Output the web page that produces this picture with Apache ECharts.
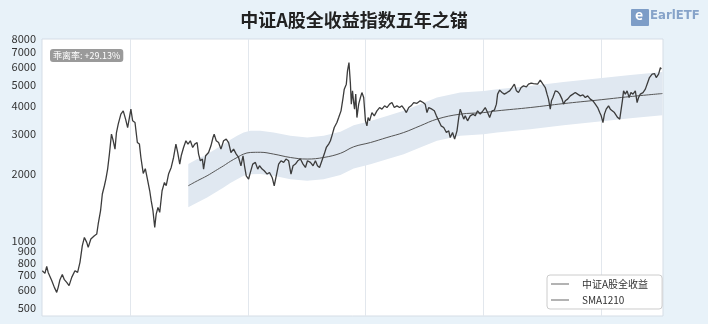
<!DOCTYPE html>
<html>
<head>
<meta charset="utf-8">
<script src="https://cdn.jsdelivr.net/npm/echarts@6/dist/echarts.min.js"></script>
<style>
html,body{margin:0;padding:0;background:#e8f2f9;}
#c{width:708px;height:324px;}
</style>
</head>
<body>
<div id="c"></div>
<script>
// ---- data ----
const titleText = '中证A股全收益指数五年之锚';
const biasText = '乖离率: +29.13%';
const seriesNames = ['中证A股全收益', 'SMA1210'];
const yTickLabels = [500, 600, 700, 800, 900, 1000, 2000, 3000, 4000, 5000, 6000, 7000, 8000];
const gridYears = [2008, 2012, 2016, 2020, 2024];

// dates as decimal years
const dates = [
2005.01,2005.10,2005.16,2005.21,2005.33,2005.42,2005.50,2005.55,2005.61,2005.69,2005.76,2005.84,2005.92,
2006.01,2006.12,2006.21,2006.29,2006.37,2006.44,2006.52,2006.57,2006.66,2006.78,2006.86,2006.91,2006.99,
2007.05,2007.12,2007.17,2007.23,2007.29,2007.36,2007.42,2007.48,2007.53,2007.59,2007.68,2007.76,2007.84,2007.91,2007.97,
2008.02,2008.08,2008.16,2008.24,2008.31,2008.36,2008.44,2008.51,2008.57,2008.66,2008.71,2008.77,2008.83,2008.88,2008.94,
2009.00,2009.08,2009.16,2009.22,2009.30,2009.39,2009.47,2009.55,2009.61,2009.68,2009.73,2009.81,2009.89,2009.96,
2010.04,2010.12,2010.19,2010.27,2010.32,2010.38,2010.45,2010.49,2010.56,2010.66,2010.74,2010.81,2010.85,2010.92,
2011.00,2011.08,2011.17,2011.26,2011.34,2011.42,2011.51,2011.60,2011.68,2011.76,2011.83,2011.88,2011.94,
2012.02,2012.08,2012.16,2012.25,2012.33,2012.39,2012.48,2012.55,2012.65,2012.73,2012.82,2012.89,2012.96,
2013.04,2013.12,2013.21,2013.29,2013.38,2013.46,2013.53,2013.61,2013.69,2013.78,2013.87,2013.95,
2014.02,2014.12,2014.21,2014.29,2014.36,2014.43,2014.51,2014.59,2014.66,2014.74,2014.80,2014.85,2014.93,
2015.02,2015.08,2015.16,2015.23,2015.27,2015.34,2015.38,2015.43,2015.48,2015.51,2015.55,2015.59,2015.62,2015.66,2015.70,2015.76,2015.82,2015.87,2015.93,2015.99,
2016.04,2016.08,2016.13,2016.21,2016.29,2016.38,2016.47,2016.55,2016.64,2016.72,2016.81,2016.89,2016.97,
2017.06,2017.15,2017.23,2017.31,2017.38,2017.46,2017.54,2017.63,2017.74,2017.85,2017.95,
2018.02,2018.08,2018.14,2018.19,2018.25,2018.33,2018.40,2018.48,2018.56,2018.65,2018.74,2018.82,2018.87,2018.95,
2019.02,2019.10,2019.16,2019.21,2019.27,2019.33,2019.38,2019.46,2019.55,2019.65,2019.72,2019.80,2019.89,2019.98,
2020.06,2020.14,2020.21,2020.29,2020.37,2020.44,2020.48,2020.55,2020.63,2020.71,2020.80,2020.89,2020.97,
2021.05,2021.12,2021.19,2021.28,2021.36,2021.46,2021.53,2021.62,2021.70,2021.76,2021.84,2021.93,
2022.02,2022.10,2022.16,2022.21,2022.27,2022.31,2022.36,2022.44,2022.52,2022.59,2022.67,2022.72,2022.78,2022.86,2022.95,
2023.04,2023.12,2023.20,2023.29,2023.38,2023.46,2023.54,2023.63,2023.72,2023.80,2023.88,2023.95,
2024.00,2024.06,2024.11,2024.17,2024.25,2024.31,2024.37,2024.45,2024.51,2024.56,2024.63,2024.68,2024.72,2024.76,2024.82,2024.88,2024.95,
2025.01,2025.08,2025.16,2025.22,2025.27,2025.33,2025.42,2025.50,2025.58,2025.64,2025.73,2025.81,2025.87,2025.95,2026.01,2026.04
];
const indexValues = [
734,714,768,721,663,618,587,618,669,705,669,651,629,
685,734,721,800,950,1034,983,933,1018,1053,1071,1188,1362,
1618,1762,1887,2092,2442,3000,2801,2571,3050,3326,3686,3814,3502,3211,3559,
3881,3441,3381,2751,2707,2358,2000,2100,1919,1673,1510,1362,1147,1316,1409,
1339,1673,1823,1762,1987,2128,2358,2707,2483,2203,2400,2614,2801,2707,
2801,2614,2707,2751,2442,2279,2320,2092,2400,2483,2660,2897,3000,2801,
2751,2571,2801,2850,2751,2483,2571,2442,2358,2165,2400,2165,1953,
1887,2021,2203,2241,2092,2165,2092,2056,1987,2021,1919,1762,1953,
2203,2279,2241,2320,2279,1987,2165,2203,2279,2320,2203,2128,
2279,2241,2165,2279,2165,2128,2279,2442,2614,2707,2801,2948,3211,
3381,3559,3814,4375,4770,5022,5759,6272,5022,4087,4687,4155,3881,4531,3559,4087,4375,4605,4375,3441,
3268,3559,3441,3747,3622,3814,3946,3881,4016,3946,4087,4155,3946,
4016,3946,4016,3881,3747,3946,4016,4155,4120,4229,4155,
4087,3747,3946,4016,3881,3814,3622,3441,3268,3211,3050,3104,2897,3050,
2850,3104,3559,3881,3686,3502,3622,3441,3622,3686,3622,3814,3686,3814,
3946,3747,3559,3814,3840,4087,4531,4721,4605,4531,4605,4687,4850,
5022,4687,4605,4850,4935,4885,5022,5080,5053,5158,5022,5233,
5022,4850,4531,4303,3881,4229,4375,4687,4653,4531,4303,4087,4229,4303,4451,
4531,4605,4531,4451,4498,4375,4451,4303,4229,4087,3946,3747,
3622,3381,3686,3881,4016,3881,3946,3747,3686,3559,3502,3441,4229,4687,4531,4687,4375,
4605,4531,4687,4155,4375,4531,4605,4770,5105,5375,5567,5601,5375,5567,5957,5861
];

// SMA1210 and its band
const smaDates = [2009.97,2010.28,2010.61,2010.89,2011.17,2011.40,2011.63,2011.85,2012.08,2012.42,2012.87,2013.44,2014.01,2014.57,2015.14,2015.59,2016.16,2016.72,2017.29,2017.85,2018.42,2019.21,2020.01,2020.46,2021.59,2022.72,2023.86,2024.99,2026.08];
const smaValues = [1762,1855,1953,2056,2165,2266,2358,2442,2483,2488,2442,2358,2320,2358,2462,2633,2751,2897,3050,3268,3502,3686,3747,3814,3946,4110,4259,4419,4559];
const bandUpper = [2203,2319,2441,2570,2706,2833,2948,3053,3104,3110,3053,2948,2900,2948,3078,3291,3439,3621,3813,4085,4378,4608,4684,4768,4933,5138,5324,5524,5699];
const bandLower = [1410,1484,1562,1645,1732,1813,1886,1954,1986,1990,1954,1886,1856,1886,1970,2106,2201,2318,2440,2614,2802,2949,2998,3051,3157,3288,3407,3535,3647];

// ---- chart ----
const L = Math.log10;
const font = 'Noto Sans CJK SC';
const chart = echarts.init(document.getElementById('c'), null, {renderer: 'canvas'});

chart.setOption({
  backgroundColor: '#e8f2f9',
  animation: false,
  textStyle: {fontFamily: font},
  title: [
    {text: titleText, left: 'center', top: 6,
     textStyle: {fontSize: 18, fontWeight: 'bold', color: '#222', fontFamily: font}},
    {text: biasText, left: 50, top: 49, backgroundColor: '#9a9a9a', borderRadius: 3, padding: [2, 3],
     textStyle: {fontSize: 9, fontWeight: 'normal', color: '#ffffff', fontFamily: font}}
  ],
  grid: {left: 42, right: 45, top: 39, bottom: 8, show: true, backgroundColor: '#ffffff', borderColor: '#d5dde6', borderWidth: 1},
  legend: {
    data: seriesNames, orient: 'vertical', left: 547, top: 275,
    backgroundColor: '#ffffff', borderColor: '#cccccc', borderWidth: 1, borderRadius: 3,
    padding: [4, 14, 4, 4], itemGap: 6, itemWidth: 18, itemHeight: 1, icon: 'rect',
    textStyle: {fontSize: 10, color: '#333', fontFamily: font, padding: [0, 0, 0, 8]}
  },
  xAxis: {
    type: 'value', min: 2005.0, max: 2026.1,
    axisLine: {show: false}, axisLabel: {show: false},
    axisTick: {show: false, customValues: gridYears},
    splitLine: {show: true, lineStyle: {color: '#e2e7ed', width: 1}}
  },
  yAxis: {
    type: 'value', min: L(460), max: L(8000),
    axisLine: {show: false}, axisTick: {show: false},
    splitLine: {show: false},
    axisLabel: {
      customValues: yTickLabels.map(v => L(v)),
      formatter: v => String(Math.round(Math.pow(10, v))),
      fontSize: 11, color: '#333', margin: 6, fontFamily: font
    }
  },
  series: [
    {name: 'band', type: 'custom', silent: true, z: 1,
     data: smaDates.map((d, i) => [d, L(bandUpper[i]), L(bandLower[i])]),
     encode: {x: 0, y: [1, 2]},
     renderItem: function (params, api) {
       if (params.dataIndex !== 0) return null;
       const up = smaDates.map((d, i) => api.coord([d, L(bandUpper[i])]));
       const lo = smaDates.map((d, i) => api.coord([d, L(bandLower[i])])).reverse();
       return {type: 'polygon', shape: {points: up.concat(lo)}, style: {fill: '#e0e8f1'}};
     }},
    {name: seriesNames[1], type: 'line', data: smaDates.map((d, i) => [d, L(smaValues[i])]), smooth: 0.4,
     symbol: 'none', lineStyle: {color: '#555555', width: 1}, itemStyle: {color: '#666666'}, z: 3},
    {name: seriesNames[0], type: 'line', data: dates.map((d, i) => [d, L(indexValues[i])]),
     symbol: 'none', lineStyle: {color: '#3c3c3c', width: 1.3}, itemStyle: {color: '#666666'}, z: 4}
  ],
  graphic: [
    {type: 'rect', left: 631, top: 9, shape: {width: 18, height: 17, r: 1}, style: {fill: '#7d9dc7'}},
    {type: 'text', left: 635, top: 8, style: {text: 'e', fill: '#ffffff', font: 'bold 14px ' + font}},
    {type: 'text', left: 650, top: 9, style: {text: 'EarlETF', fill: '#86a3c9', font: 'bold 13px "DejaVu Sans Condensed", sans-serif'}}
  ]
});
</script>
</body>
</html>
